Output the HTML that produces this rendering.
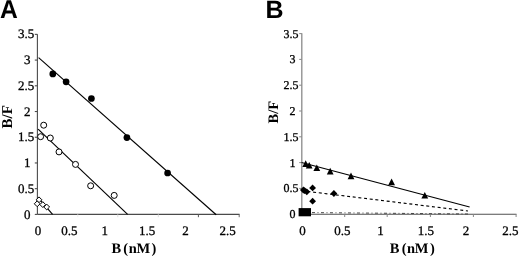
<!DOCTYPE html>
<html><head><meta charset="utf-8"><style>
html,body{margin:0;padding:0;background:#fff;width:520px;height:257px;overflow:hidden}
svg{display:block;filter:blur(0.3px)}
.ln{stroke:#000;stroke-width:1.15;fill:none}
.oc{stroke:#000;stroke-width:1;fill:#fff}
.t{font-family:"Liberation Serif", serif;fill:#000;stroke:#000;stroke-width:0.3}
.tb{font-family:"Liberation Serif", serif;font-weight:bold;fill:#000}
.ts{font-family:"Liberation Sans", sans-serif;font-weight:bold;fill:#000}
</style></head><body>
<svg width="520" height="257" viewBox="0 0 520 257">
<line x1="37.4" y1="34.2" x2="37.4" y2="214.4" stroke="#4a4a4a" stroke-width="1.1"/>
<line x1="34.8" y1="214.4" x2="37.4" y2="214.4" stroke="#4a4a4a" stroke-width="1.1"/>
<text transform="translate(27.2,218.5) skewX(0.1)" class="t" font-size="13" text-anchor="middle">0</text>
<line x1="34.8" y1="188.68" x2="37.4" y2="188.68" stroke="#4a4a4a" stroke-width="1.1"/>
<text transform="translate(26.1,192.78) skewX(0.1)" class="t" font-size="13" text-anchor="middle">0.5</text>
<line x1="34.8" y1="162.96" x2="37.4" y2="162.96" stroke="#4a4a4a" stroke-width="1.1"/>
<text transform="translate(27.2,167.06) skewX(0.1)" class="t" font-size="13" text-anchor="middle">1</text>
<line x1="34.8" y1="137.24" x2="37.4" y2="137.24" stroke="#4a4a4a" stroke-width="1.1"/>
<text transform="translate(26.1,141.34) skewX(0.1)" class="t" font-size="13" text-anchor="middle">1.5</text>
<line x1="34.8" y1="111.52" x2="37.4" y2="111.52" stroke="#4a4a4a" stroke-width="1.1"/>
<text transform="translate(27.2,115.62) skewX(0.1)" class="t" font-size="13" text-anchor="middle">2</text>
<line x1="34.8" y1="85.8" x2="37.4" y2="85.8" stroke="#4a4a4a" stroke-width="1.1"/>
<text transform="translate(26.1,89.9) skewX(0.1)" class="t" font-size="13" text-anchor="middle">2.5</text>
<line x1="34.8" y1="60.08" x2="37.4" y2="60.08" stroke="#4a4a4a" stroke-width="1.1"/>
<text transform="translate(27.2,64.18) skewX(0.1)" class="t" font-size="13" text-anchor="middle">3</text>
<line x1="34.8" y1="34.36" x2="37.4" y2="34.36" stroke="#4a4a4a" stroke-width="1.1"/>
<text transform="translate(26.1,38.46) skewX(0.1)" class="t" font-size="13" text-anchor="middle">3.5</text>
<line x1="37.4" y1="214.4" x2="239.6" y2="214.4" stroke="#4a4a4a" stroke-width="1.1"/>
<line x1="77.8" y1="214.4" x2="77.8" y2="217.2" stroke="#eee" stroke-width="1"/>
<line x1="117.8" y1="214.4" x2="117.8" y2="217.2" stroke="#ddd" stroke-width="1"/>
<line x1="158.3" y1="214.4" x2="158.3" y2="217.2" stroke="#ddd" stroke-width="1"/>
<line x1="198.4" y1="214.4" x2="198.4" y2="217.2" stroke="#555" stroke-width="1"/>
<line x1="239.2" y1="214.4" x2="239.2" y2="217.2" stroke="#666" stroke-width="1"/>
<text transform="translate(37.9,235) skewX(0.1)" class="t" font-size="13" text-anchor="middle">0</text>
<text transform="translate(69.4,235) skewX(0.1)" class="t" font-size="13" text-anchor="middle">0.5</text>
<text transform="translate(104.7,235) skewX(0.1)" class="t" font-size="13" text-anchor="middle">1</text>
<text transform="translate(147.2,235) skewX(0.1)" class="t" font-size="13" text-anchor="middle">1.5</text>
<text transform="translate(185.4,235) skewX(0.1)" class="t" font-size="13" text-anchor="middle">2</text>
<text transform="translate(227.5,235) skewX(0.1)" class="t" font-size="13" text-anchor="middle">2.5</text>
<line x1="301.8" y1="33.3" x2="301.8" y2="214.2" stroke="#8a8a8a" stroke-width="1.3"/>
<line x1="299.2" y1="214.2" x2="301.8" y2="214.2" stroke="#8a8a8a" stroke-width="1.05"/>
<text transform="translate(292.4,218.1) skewX(0.1)" class="t" font-size="12" text-anchor="middle">0</text>
<line x1="299.2" y1="188.4" x2="301.8" y2="188.4" stroke="#8a8a8a" stroke-width="1.05"/>
<text transform="translate(290.9,192.3) skewX(0.1)" class="t" font-size="12" text-anchor="middle">0.5</text>
<line x1="299.2" y1="162.6" x2="301.8" y2="162.6" stroke="#8a8a8a" stroke-width="1.05"/>
<text transform="translate(292.4,166.5) skewX(0.1)" class="t" font-size="12" text-anchor="middle">1</text>
<line x1="299.2" y1="136.8" x2="301.8" y2="136.8" stroke="#8a8a8a" stroke-width="1.05"/>
<text transform="translate(290.9,140.7) skewX(0.1)" class="t" font-size="12" text-anchor="middle">1.5</text>
<line x1="299.2" y1="111" x2="301.8" y2="111" stroke="#8a8a8a" stroke-width="1.05"/>
<text transform="translate(292.4,114.9) skewX(0.1)" class="t" font-size="12" text-anchor="middle">2</text>
<line x1="299.2" y1="85.2" x2="301.8" y2="85.2" stroke="#8a8a8a" stroke-width="1.05"/>
<text transform="translate(290.9,89.1) skewX(0.1)" class="t" font-size="12" text-anchor="middle">2.5</text>
<line x1="299.2" y1="59.4" x2="301.8" y2="59.4" stroke="#8a8a8a" stroke-width="1.05"/>
<text transform="translate(292.4,63.3) skewX(0.1)" class="t" font-size="12" text-anchor="middle">3</text>
<line x1="299.2" y1="33.6" x2="301.8" y2="33.6" stroke="#8a8a8a" stroke-width="1.05"/>
<text transform="translate(290.9,37.5) skewX(0.1)" class="t" font-size="12" text-anchor="middle">3.5</text>
<line x1="301.8" y1="214.2" x2="516.5" y2="214.2" stroke="#505050" stroke-width="1.05"/>
<line x1="344.7" y1="214.2" x2="344.7" y2="217" stroke="#888" stroke-width="1"/>
<line x1="387.2" y1="214.2" x2="387.2" y2="217" stroke="#888" stroke-width="1"/>
<line x1="430.4" y1="214.2" x2="430.4" y2="217" stroke="#888" stroke-width="1"/>
<line x1="473.4" y1="214.2" x2="473.4" y2="217" stroke="#888" stroke-width="1"/>
<line x1="516.1" y1="214.2" x2="516.1" y2="217" stroke="#888" stroke-width="1"/>
<text transform="translate(302.5,235) skewX(0.1)" class="t" font-size="13" text-anchor="middle">0</text>
<text transform="translate(342.3,235) skewX(0.1)" class="t" font-size="13" text-anchor="middle">0.5</text>
<text transform="translate(380.4,235) skewX(0.1)" class="t" font-size="13" text-anchor="middle">1</text>
<text transform="translate(425.9,235) skewX(0.1)" class="t" font-size="13" text-anchor="middle">1.5</text>
<text transform="translate(466.1,235) skewX(0.1)" class="t" font-size="13" text-anchor="middle">2</text>
<text transform="translate(510.3,235) skewX(0.1)" class="t" font-size="13" text-anchor="middle">2.5</text>
<text transform="translate(0,17.6) scale(0.95,1) skewX(0.1)" class="ts" font-size="26">A</text>
<text transform="translate(265.4,17.6) skewX(0.1)" class="ts" font-size="25">B</text>
<text transform="translate(11.6,116.8) rotate(-90) skewX(0.1)" class="tb" font-size="15" text-anchor="middle">B/F</text>
<text transform="translate(278.1,112.1) rotate(-90) skewX(0.1)" class="tb" font-size="14.5" text-anchor="middle">B/F</text>
<text transform="translate(111.46,252.8) skewX(0.1)" class="tb" font-size="14.5" x="0.00 9.64 11.80 17.25 24.99 40.14">B (nM)</text>
<text transform="translate(389.86,252.8) skewX(0.1)" class="tb" font-size="14.5" x="0.00 9.64 11.80 17.25 24.99 40.14">B (nM)</text>
<line x1="38.6" y1="57.6" x2="216.2" y2="214.8" class="ln"/>
<circle cx="52.8" cy="73.9" r="3.35" fill="#000"/>
<circle cx="66.1" cy="81.8" r="3.35" fill="#000"/>
<circle cx="91.4" cy="98.5" r="3.35" fill="#000"/>
<circle cx="126.9" cy="137.6" r="3.35" fill="#000"/>
<circle cx="167.6" cy="173.0" r="3.35" fill="#000"/>
<line x1="38.1" y1="129.2" x2="127.6" y2="214.3" class="ln"/>
<circle cx="43.7" cy="125.2" r="3.0" class="oc"/>
<circle cx="40.6" cy="136.7" r="3.0" class="oc"/>
<circle cx="50.3" cy="138.0" r="3.0" class="oc"/>
<circle cx="59.0" cy="151.9" r="3.0" class="oc"/>
<circle cx="75.5" cy="164.4" r="3.0" class="oc"/>
<circle cx="90.65" cy="185.8" r="3.0" class="oc"/>
<circle cx="114.2" cy="195.4" r="3.0" class="oc"/>
<line x1="38.2" y1="197.8" x2="52.6" y2="214.4" class="ln"/>
<path d="M39 196.9 L41.9 199.8 L39 202.7 L36.1 199.8 Z" class="oc"/>
<path d="M37.2 200.9 L40.1 203.8 L37.2 206.7 L34.3 203.8 Z" class="oc"/>
<path d="M42.8 201.7 L45.7 204.6 L42.8 207.5 L39.9 204.6 Z" class="oc"/>
<path d="M46.7 204.1 L49.6 207 L46.7 209.9 L43.8 207 Z" class="oc"/>
<line x1="301.5" y1="162.5" x2="469.6" y2="207.0" class="ln"/>
<path d="M305.7 160.2 L309.1 166.9 L302.3 166.9 Z" fill="#000"/>
<path d="M309.2 161.9 L312.6 168.6 L305.8 168.6 Z" fill="#000"/>
<path d="M316.8 164.4 L320.2 171.1 L313.4 171.1 Z" fill="#000"/>
<path d="M330.2 167.8 L333.6 174.5 L326.8 174.5 Z" fill="#000"/>
<path d="M351 172.6 L354.4 179.3 L347.6 179.3 Z" fill="#000"/>
<path d="M391.6 178.6 L395 185.3 L388.2 185.3 Z" fill="#000"/>
<path d="M424.8 191.9 L428.2 198.6 L421.4 198.6 Z" fill="#000"/>
<line x1="301.8" y1="190.7" x2="468" y2="211.0" class="ln" stroke-dasharray="3 2.7"/>
<path d="M303.4 186.6 L306.8 190 L303.4 193.4 L300 190 Z" fill="#000"/>
<path d="M304.6 187.2 L308 190.6 L304.6 194 L301.2 190.6 Z" fill="#000"/>
<path d="M306.8 188.4 L310.2 191.8 L306.8 195.2 L303.4 191.8 Z" fill="#000"/>
<path d="M312.6 184.5 L316 187.9 L312.6 191.3 L309.2 187.9 Z" fill="#000"/>
<path d="M312.6 197.8 L316 201.2 L312.6 204.6 L309.2 201.2 Z" fill="#000"/>
<path d="M333.9 190.1 L337.3 193.5 L333.9 196.9 L330.5 193.5 Z" fill="#000"/>
<line x1="303" y1="212.5" x2="470" y2="214" stroke="#333" stroke-width="0.9" stroke-dasharray="3 2.5 1 2.5"/>
<rect x="298.6" y="208.1" width="12.4" height="8.2" fill="#000"/>
</svg>
</body></html>
